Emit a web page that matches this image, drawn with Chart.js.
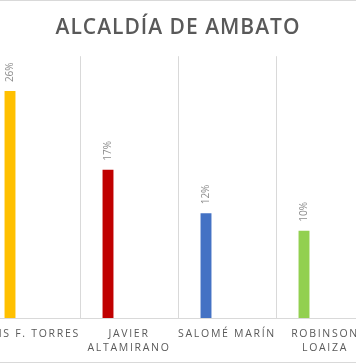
<!DOCTYPE html>
<html>
<head>
<meta charset="utf-8">
<script src="https://cdn.jsdelivr.net/npm/chart.js@4/dist/chart.umd.min.js"></script>
<style>
  html, body { margin: 0; padding: 0; background: #fff; }
  body { width: 356px; height: 364px; overflow: hidden; position: relative; }
  #frame { position: absolute; left: 0; top: 0; width: 356px; height: 363px;
           box-sizing: border-box; border-top: 1px solid #d9d9d9; border-bottom: 1px solid #d9d9d9; }
  #wrap { position: absolute; left: -18px; top: 0; width: 392px; height: 372px; }
</style>
</head>
<body>
<div id="frame"></div>
<div id="wrap"><canvas id="c"></canvas></div>
<script>
const chartTitle = 'ALCALDÍA DE AMBATO';
const categories = [['LUIS F. TORRES'], ['JAVIER', 'ALTAMIRANO'], ['SALOMÉ MARÍN'], ['ROBINSON', 'LOAIZA']];
const voteShare = [26, 17, 12, 10];
const emptySeries = [null, null, null, null];
const barColors = ['#FFC000', '#C00000', '#4472C4', '#92D050'];
const yMax = 30;

const spacingPlugin = {
  id: 'spacing',
  beforeDraw(chart) { chart.ctx.letterSpacing = '1px'; },
  beforeDatasetsDraw(chart) { chart.ctx.letterSpacing = '0px'; },
  afterDatasetsDraw(chart) {
    const ctx = chart.ctx;
    const meta = chart.getDatasetMeta(0);
    ctx.save();
    ctx.letterSpacing = '0px';
    ctx.font = '10px "Open Sans"';
    ctx.fillStyle = '#8c8c8c';
    ctx.textAlign = 'left';
    ctx.textBaseline = 'middle';
    meta.data.forEach((bar, i) => {
      const v = chart.data.datasets[0].data[i];
      if (v == null) return;
      ctx.save();
      ctx.translate(bar.x + 0.5, bar.y - 9);
      ctx.rotate(-Math.PI / 2);
      ctx.fillText(v + '%', 0, 0);
      ctx.restore();
    });
    ctx.restore();
    ctx.letterSpacing = '1.7px';
  },
  afterDraw(chart) { chart.ctx.letterSpacing = '0px'; }
};

new Chart(document.getElementById('c'), {
  type: 'bar',
  data: {
    labels: categories,
    datasets: [
      { data: voteShare, backgroundColor: barColors, barPercentage: 0.26, categoryPercentage: 0.857 },
      { data: emptySeries, backgroundColor: '#999', barPercentage: 0.26, categoryPercentage: 0.857 }
    ]
  },
  options: {
    responsive: true,
    maintainAspectRatio: false,
    animation: false,
    layout: { padding: { top: 0, bottom: 8, left: 0, right: 0 } },
    plugins: {
      legend: { display: false },
      tooltip: { enabled: false },
      title: {
        display: true,
        text: chartTitle,
        color: '#595959',
        font: { family: '"Open Sans"', size: 21, weight: '600', lineHeight: 1.2 },
        padding: { top: 15, bottom: 16 }
      }
    },
    scales: {
      x: {
        offset: true,
        grid: { offset: true, color: '#d9d9d9', drawTicks: false, lineWidth: 1 },
        border: { display: true, color: '#d9d9d9' },
        ticks: {
          z: 1,
          color: '#595959',
          padding: 9,
          autoSkip: false,
          maxRotation: 0,
          minRotation: 0,
          font: { family: '"Open Sans"', size: 10.5, lineHeight: 1.33 }
        }
      },
      y: { display: false, min: 0, max: yMax }
    }
  },
  plugins: [spacingPlugin]
});
</script>
</body>
</html>
